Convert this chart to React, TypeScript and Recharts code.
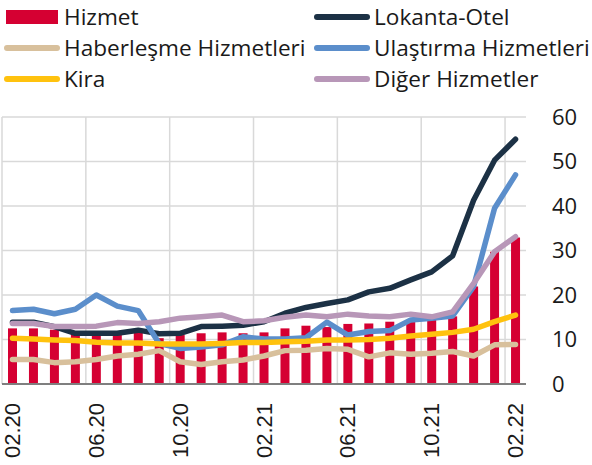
import React from 'react';
import { ComposedChart, Bar, Line, XAxis, YAxis, CartesianGrid, Legend } from 'recharts';

const months = ['02.20','03.20','04.20','05.20','06.20','07.20','08.20','09.20','10.20','11.20','12.20','01.21','02.21','03.21','04.21','05.21','06.21','07.21','08.21','09.21','10.21','11.21','12.21','01.22','02.22'];
const hizmet = [12.5,12.5,12.2,11.8,11.8,11.8,11.9,10.3,11.0,11.4,11.6,11.4,11.6,12.5,13.1,12.8,13.5,13.6,14.0,14.4,14.5,15.2,21.9,29.7,32.9];
const lokantaOtel = [13.9,13.9,12.9,11.4,11.4,11.4,12.1,11.3,11.4,12.9,13.0,13.2,14.0,15.9,17.2,18.1,18.9,20.7,21.5,23.4,25.2,28.8,41.3,50.3,55.0];
const haberlesme = [5.5,5.5,4.8,5.0,5.5,6.3,6.7,7.5,5.0,4.4,5.0,5.4,6.3,7.5,7.6,8.0,7.8,6.1,7.0,6.7,6.9,7.3,6.3,8.8,8.9];
const ulastirma = [16.5,16.8,15.8,16.8,20.0,17.5,16.5,9.1,8.0,8.3,8.8,10.6,10.1,10.1,10.4,13.9,11.0,11.8,12.0,14.4,14.8,15.3,21.9,39.5,47.0];
const kira = [10.3,10.1,9.9,9.8,9.4,9.2,9.2,9.0,9.0,9.0,9.1,9.3,9.3,9.5,9.6,9.9,9.9,10.0,10.3,10.8,11.2,11.6,12.3,14.0,15.5];
const diger = [13.6,13.6,12.9,12.9,13.0,13.8,13.6,14.0,14.8,15.1,15.5,14.0,14.2,15.0,15.5,15.1,15.7,15.3,15.1,15.7,15.1,16.2,22.6,29.7,33.1];
const yTicks = [0,10,20,30,40,50,60];

const data = months.map((m, i) => ({
  month: m,
  hizmet: hizmet[i],
  lokanta: lokantaOtel[i],
  haberlesme: haberlesme[i],
  ulastirma: ulastirma[i],
  kira: kira[i],
  diger: diger[i],
}));

const COLORS = {
  hizmet: '#d50032',
  lokanta: '#1c3145',
  haberlesme: '#d8c09c',
  ulastirma: '#5b8ecb',
  kira: '#ffc20e',
  diger: '#b897b8',
};

const legendItems = [
  { name: 'Hizmet', color: COLORS.hizmet, type: 'rect', col: 0, row: 0 },
  { name: 'Lokanta-Otel', color: COLORS.lokanta, type: 'line', col: 1, row: 0 },
  { name: 'Haberleşme Hizmetleri', color: COLORS.haberlesme, type: 'line', col: 0, row: 1 },
  { name: 'Ulaştırma Hizmetleri', color: COLORS.ulastirma, type: 'line', col: 1, row: 1 },
  { name: 'Kira', color: COLORS.kira, type: 'line', col: 0, row: 2 },
  { name: 'Diğer Hizmetler', color: COLORS.diger, type: 'line', col: 1, row: 2 },
];

const FONT = '"Open Sans", "Noto Sans", sans-serif';

const LegendContent = () => (
  <div style={{ position: 'relative', width: 592, height: 100 }}>
    {legendItems.map((it) => {
      const left = it.col === 0 ? 4 : 314;
      const cy = 17 + it.row * 31;
      return (
        <div key={it.name} style={{ position: 'absolute', left: 0, top: 0 }}>
          {it.type === 'rect' ? (
            <div style={{ position: 'absolute', left: left + 2, top: cy - 7, width: 52, height: 14, background: it.color }} />
          ) : (
            <div style={{ position: 'absolute', left, top: cy - 3, width: 56, height: 6, borderRadius: 3, background: it.color }} />
          )}
          <div style={{ position: 'absolute', left: left + 60, top: cy - 16, height: 32, lineHeight: '32px', whiteSpace: 'nowrap', fontFamily: FONT, fontSize: 22.6, color: '#1a1a1a' }}>{it.name}</div>
        </div>
      );
    })}
  </div>
);

const XTick = (props: any) => {
  const { x, y, payload } = props;
  return (
    <text x={x} y={y} transform={`rotate(-90, ${x}, ${y})`} textAnchor="end" dominantBaseline="central" fontFamily='"Liberation Sans", Arial, sans-serif' fontSize={22} fill="#1a1a1a">
      {payload.value}
    </text>
  );
};

const vGen = ({ offset }: any) => {
  const res: number[] = [];
  for (let k = 0; k < months.length; k += 4) {
    res.push(offset.left + (k * offset.width) / months.length);
  }
  return res;
};

export default function App() {
  return (
    <div style={{ position: 'absolute', left: 0, top: 0, width: 592, height: 465, background: '#fff' }}>
      <ComposedChart width={592} height={465} data={data} margin={{ top: 117, right: 0, bottom: 0, left: 2 }} barCategoryGap={0}>
        <CartesianGrid stroke="#d9d9d9" strokeWidth={1.5} verticalCoordinatesGenerator={vGen} />
        <XAxis dataKey="month" interval={3} height={81} tick={<XTick />} tickLine={false} tickSize={0} tickMargin={19} axisLine={{ stroke: '#7f7f7f', strokeWidth: 2 }} />
        <YAxis orientation="right" domain={[0, 60]} ticks={yTicks} width={66} axisLine={false} tickLine={false} tickSize={0} tickMargin={26} tick={{ fontFamily: FONT, fontSize: 22, fill: '#1a1a1a' }} interval={0} />
        <Legend verticalAlign="middle" align="center" layout="horizontal" content={<LegendContent />} wrapperStyle={{ top: 0, left: 0, width: 592, height: 100 }} />
        <Bar dataKey="hizmet" name="Hizmet" fill={COLORS.hizmet} barSize={9} isAnimationActive={false} />
        <Line dataKey="lokanta" name="Lokanta-Otel" stroke={COLORS.lokanta} strokeWidth={5.5} dot={false} isAnimationActive={false} strokeLinejoin="round" strokeLinecap="round" />
        <Line dataKey="haberlesme" name="Haberleşme Hizmetleri" stroke={COLORS.haberlesme} strokeWidth={5.5} dot={false} isAnimationActive={false} strokeLinejoin="round" strokeLinecap="round" />
        <Line dataKey="ulastirma" name="Ulaştırma Hizmetleri" stroke={COLORS.ulastirma} strokeWidth={5.5} dot={false} isAnimationActive={false} strokeLinejoin="round" strokeLinecap="round" />
        <Line dataKey="kira" name="Kira" stroke={COLORS.kira} strokeWidth={5.5} dot={false} isAnimationActive={false} strokeLinejoin="round" strokeLinecap="round" />
        <Line dataKey="diger" name="Diğer Hizmetler" stroke={COLORS.diger} strokeWidth={5.5} dot={false} isAnimationActive={false} strokeLinejoin="round" strokeLinecap="round" />
      </ComposedChart>
    </div>
  );
}
